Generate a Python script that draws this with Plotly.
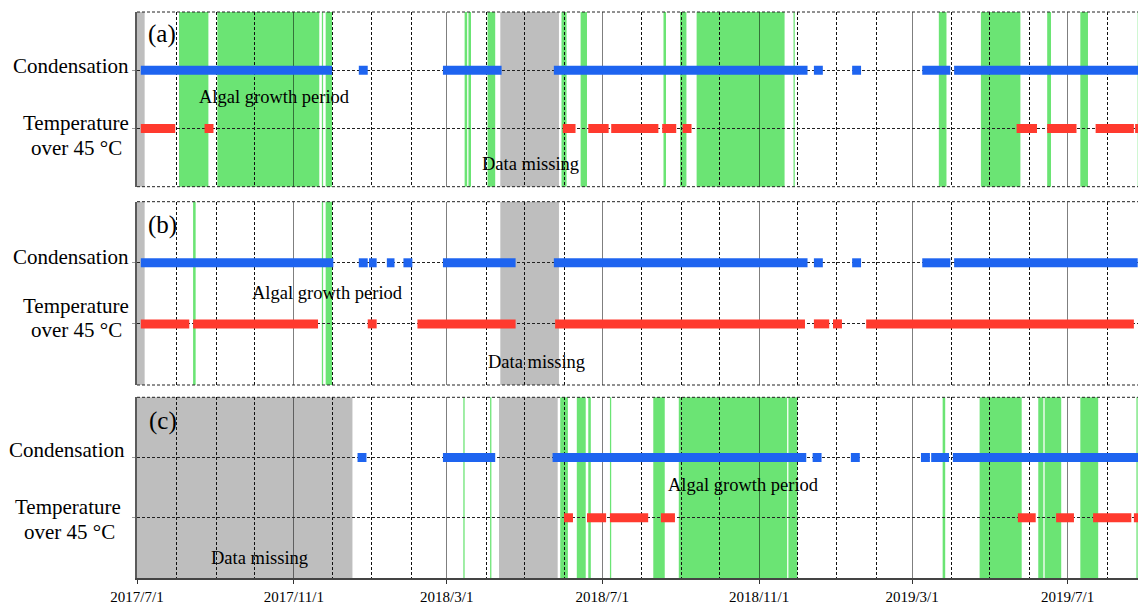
import plotly.graph_objects as go

FONT = "Liberation Serif"
X_START = "2017-07-01"
X_END = "2019-09-06 19:00"
END = "2019-09-10"

# ---------------- data (start, end) ----------------
# Panel (a)
a_condensation = [("2017-07-04", "2017-12-01"), ("2017-12-22", "2017-12-29"),
                  ("2018-02-26", "2018-04-13"), ("2018-05-24", "2018-12-09"),
                  ("2018-12-14", "2018-12-21"), ("2019-01-13", "2019-01-20"),
                  ("2019-03-09", "2019-03-31"), ("2019-04-03", END)]
a_temperature = [("2017-07-04", "2017-07-31"), ("2017-08-23", "2017-08-30"),
                 ("2018-05-31", "2018-06-10"), ("2018-06-20", "2018-07-06"),
                 ("2018-07-08", "2018-08-14"), ("2018-08-17", "2018-08-28"),
                 ("2018-09-02", "2018-09-09"), ("2019-05-22", "2019-06-07"),
                 ("2019-06-15", "2019-07-08"), ("2019-07-23", "2019-08-22"),
                 ("2019-08-23", END)]
a_algal = [("2017-08-03", "2017-08-26"), ("2017-09-02", "2017-11-21"),
           ("2017-11-23", "2017-11-24"), ("2017-11-26", "2017-12-01"),
           ("2018-03-15", "2018-03-17"), ("2018-03-18", "2018-03-20"),
           ("2018-04-02", "2018-04-08"), ("2018-05-30", "2018-06-03"),
           ("2018-06-14", "2018-06-19"), ("2018-08-18", "2018-08-20"),
           ("2018-08-31", "2018-09-05"), ("2018-09-13", "2018-11-21"),
           ("2018-11-28", "2018-11-29"), ("2019-03-22", "2019-03-28"),
           ("2019-04-24", "2019-05-25"), ("2019-06-15", "2019-06-18"),
           ("2019-07-11", "2019-07-17"), ("2019-08-25", "2019-08-26")]
a_missing = [("2017-07-01", "2017-07-07"), ("2018-04-12", "2018-05-28")]

# Panel (b)
b_condensation = [("2017-07-04", "2017-12-02"), ("2017-12-22", "2017-12-29"),
                  ("2017-12-30", "2018-01-05"), ("2018-01-13", "2018-01-19"),
                  ("2018-01-26", "2018-02-02"), ("2018-02-26", "2018-04-24"),
                  ("2018-05-24", "2018-12-09"), ("2018-12-14", "2018-12-21"),
                  ("2019-01-13", "2019-01-20"), ("2019-03-09", "2019-03-31"),
                  ("2019-04-03", "2019-08-25"), ("2019-08-29", END)]
b_temperature = [("2017-07-04", "2017-08-11"), ("2017-08-14", "2017-11-20"),
                 ("2017-12-29", "2018-01-05"), ("2018-02-06", "2018-04-24"),
                 ("2018-05-25", "2018-12-07"), ("2018-12-14", "2018-12-26"),
                 ("2018-12-29", "2019-01-05"), ("2019-01-24", "2019-08-22")]
b_algal = [("2017-08-14", "2017-08-16"), ("2017-11-23", "2017-11-24"),
           ("2017-11-26", "2017-12-01")]
b_missing = [("2017-07-01", "2017-07-07"), ("2018-04-12", "2018-05-28")]

# Panel (c)
c_condensation = [("2017-12-21", "2017-12-28"), ("2018-02-26", "2018-04-08"),
                  ("2018-05-23", "2018-12-08"), ("2018-12-13", "2018-12-20"),
                  ("2019-01-12", "2019-01-19"), ("2019-03-08", "2019-03-15"),
                  ("2019-03-16", "2019-03-30"), ("2019-04-02", END)]
c_temperature = [("2018-06-01", "2018-06-08"), ("2018-06-19", "2018-07-04"),
                 ("2018-07-07", "2018-08-06"), ("2018-08-16", "2018-08-27"),
                 ("2019-05-23", "2019-06-06"), ("2019-06-22", "2019-07-06"),
                 ("2019-07-21", "2019-08-20"), ("2019-08-22", "2019-08-29")]
c_algal = [("2018-03-14", "2018-03-15"), ("2018-04-04", "2018-04-05"),
           ("2018-05-29", "2018-06-04"), ("2018-06-11", "2018-06-18"),
           ("2018-06-20", "2018-06-22"), ("2018-07-07", "2018-07-08"),
           ("2018-08-10", "2018-08-19"), ("2018-08-30", "2018-11-23"),
           ("2018-11-24", "2018-12-01"), ("2019-03-25", "2019-03-27"),
           ("2019-04-23", "2019-05-26"), ("2019-06-08", "2019-06-12"),
           ("2019-06-13", "2019-06-26"), ("2019-07-11", "2019-07-25"),
           ("2019-08-24", "2019-08-25")]
c_missing = [("2017-07-01", "2017-12-17"), ("2018-04-11", "2018-05-27")]

row_labels = ["Condensation", "Temperature", "over 45 °C"]
panel_letters = ["(a)", "(b)", "(c)"]
tick_format = "%Y/%-m/%-d"

BLUE = "#1E64F0"
RED = "#FF3A2E"
GREEN = "#6BE474"
GRAY = "#BEBEBE"

# page body has an 8px margin: shift the layout by 8px; the right edge runs past the window
OFF = 8
W, H = 1146, 606 - OFF
ML, MR, MT, MB = 137 - OFF, 0, 12 - OFF, 28
PW, PH = W - ML - MR, H - MT - MB


def py2paper(py):
    # py: pixel y in the 1146x606 window
    return (H - MB - (py - OFF)) / PH


def px2paper(px):
    return (px - OFF - ML) / PW


panels = [
    dict(cond=a_condensation, temp=a_temperature, algal=a_algal, miss=a_missing,
         top=12, bottom=186.7, yname="y"),
    dict(cond=b_condensation, temp=b_temperature, algal=b_algal, miss=b_missing,
         top=201.7, bottom=385, yname="y2"),
    dict(cond=c_condensation, temp=c_temperature, algal=c_algal, miss=c_missing,
         top=397.3, bottom=578, yname="y3"),
]


def seg_xy(segs, level):
    xs, ys = [], []
    for s, e in segs:
        xs += [s, e, None]
        ys += [level, level, None]
    return xs, ys


fig = go.Figure()
shapes = []
layout_axes = {}
for i, p in enumerate(panels):
    yname = p["yname"]
    for segs, level, color in [(p["cond"], 2, BLUE), (p["temp"], 1, RED)]:
        xs, ys = seg_xy(segs, level)
        fig.add_trace(go.Scatter(x=xs, y=ys, mode="lines", xaxis="x", yaxis=yname,
                                 line=dict(color=color, width=9), hoverinfo="skip",
                                 showlegend=False))
    for segs, color in [(p["miss"], GRAY), (p["algal"], GREEN)]:
        for s, e in segs:
            shapes.append(dict(type="rect", xref="x", yref=f"{yname} domain",
                               x0=s, x1=e, y0=0, y1=1, fillcolor=color,
                               line=dict(width=0), layer="below"))
    borders = [1] if i == 2 else [0, 1]
    for yb in borders:
        shapes.append(dict(type="line", xref="x domain", yref=f"{yname} domain",
                           x0=0, x1=1, y0=yb, y1=yb,
                           line=dict(color="#222", width=1, dash="3px,2px")))
    key = "yaxis" if i == 0 else f"yaxis{i+1}"
    layout_axes[key] = dict(
        domain=[max(0, py2paper(p["bottom"])), min(1, py2paper(p["top"]))], range=[0, 3],
        anchor="x", tickvals=[1, 2], showticklabels=False, automargin=False,
        showgrid=True, gridcolor="#222", griddash="3px,2px", gridwidth=1,
        ticks="outside", ticklen=3, tickcolor="#999",
        showline=True, linecolor="#5a5a5a", linewidth=1.5, zeroline=False)

# text annotations: (text, center px x, center px y, size)
texts = [
    ("Condensation", 71.2, 66.2, 21), ("Temperature", 76, 122.9, 21), ("over 45 °C", 76.3, 147.9, 21),
    ("Condensation", 71.2, 257.2, 21), ("Temperature", 76, 306.2, 21), ("over 45 °C", 76.3, 330.2, 21),
    ("Condensation", 66.8, 450.2, 21), ("Temperature", 68.3, 507.2, 21), ("over 45 °C", 69.2, 532.2, 21),
    ("(a)", 162.3, 34.3, 25), ("(b)", 162, 224.7, 25), ("(c)", 162.5, 420.7, 25),
    ("Algal growth period", 274.5, 97, 18.5), ("Algal growth period", 327.2, 292.7, 18.5),
    ("Algal growth period", 743.8, 485.4, 18.5),
    ("Data missing", 530.2, 164.4, 18.5), ("Data missing", 536.2, 362, 18.5),
    ("Data missing", 259.5, 558, 18.5),
]
annotations = [dict(text=t, xref="paper", yref="paper", x=px2paper(x), y=py2paper(y),
                    xanchor="center", yanchor="middle", showarrow=False,
                    font=dict(family=FONT, size=s, color="black"))
               for t, x, y, s in texts]

fig.update_layout(
    width=W, height=H, margin=dict(l=ML, r=MR, t=MT, b=MB, autoexpand=False),
    paper_bgcolor="white", plot_bgcolor="white",
    font=dict(family=FONT, color="black"),
    shapes=shapes, annotations=annotations, showlegend=False,
    xaxis=dict(type="date", range=[X_START, X_END], domain=[0, 1], anchor="y3",
               automargin=False,
               dtick="M4", tick0="2017-07-01", tickformat=tick_format,
               showgrid=True, gridcolor="rgba(0,0,0,0.5)", gridwidth=1.3,
               minor=dict(dtick="M1", tick0="2017-07-01", showgrid=True,
                          gridcolor="#111", griddash="3px,2px", gridwidth=1),
               ticks="outside", ticklen=4, tickcolor="#333",
               showline=True, linecolor="#444", linewidth=1.5, zeroline=False,
               tickfont=dict(family=FONT, size=15, color="black")),
    **layout_axes,
)

fig.write_html("out.html")
